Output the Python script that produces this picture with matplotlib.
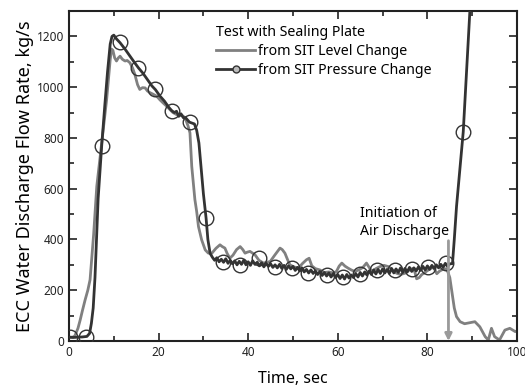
import numpy as np
import matplotlib
matplotlib.use("Agg")
import matplotlib.pyplot as plt
from matplotlib.lines import Line2D

plt.rcParams['font.family'] = ['Noto Sans', 'DejaVu Sans']

# ---- Data: from SIT Pressure Change (dark line) ----
press_t_rise = [0, 1, 2, 3, 4, 4.6, 5.0, 5.4, 5.8, 6.5, 7.3, 8.0, 8.6, 9.2, 9.6, 10.0, 10.6,
                11.4, 12.5, 13.5, 14.5, 15.5, 16.5, 17.5, 18.5, 19.3, 20.3, 21.3, 22.3, 22.9,
                23.5, 24.0, 24.5, 25.0, 25.5, 26.0, 26.9, 27.5, 28.0, 28.5, 29.0, 29.5, 30.0,
                30.6, 31.0, 31.5]
press_v_rise = [15, 14, 15, 16, 18, 30, 70, 130, 250, 560, 770, 930, 1060, 1170, 1200, 1205, 1190,
                1175, 1150, 1125, 1100, 1076, 1055, 1030, 1005, 990, 965, 945, 920, 908,
                900, 905, 885, 895, 880, 880, 862, 858, 855, 830, 780, 680, 580,
                484, 400, 345]
press_t_plateau = np.arange(32.0, 85.01, 0.5)
press_v_plateau = [330, 318, 328, 312, 322, 310, 324, 306, 318, 304, 316, 300, 314, 302, 318, 300,
                   312, 298, 316, 302, 310, 296, 308, 292, 306, 294, 304, 290, 300, 288, 302, 286,
                   298, 282, 296, 284, 294, 278, 290, 276, 288, 272, 282, 268, 280, 266, 276, 262,
                   274, 258, 270, 256, 268, 252, 266, 250, 262, 246, 260, 244, 262, 248, 260, 250,
                   266, 252, 270, 256, 272, 260, 276, 262, 280, 264, 282, 266, 284, 268, 282, 266,
                   286, 268, 284, 270, 288, 270, 286, 272, 290, 274, 288, 276, 292, 278, 294, 280,
                   296, 282, 298, 286, 300, 288, 302, 290, 306, 294, 304]
press_t_end = [85.6, 86.0, 86.5, 87.3, 88.0, 88.8, 89.5, 90.0]
press_v_end = [305, 400, 530, 688, 824, 1083, 1306, 1420]

press_t = np.concatenate([press_t_rise, press_t_plateau, press_t_end])
press_v = np.concatenate([press_v_rise, press_v_plateau, press_v_end])

# open-circle markers along the pressure curve
marker_t = [0.3, 3.9, 7.3, 11.4, 15.5, 19.3, 22.9, 26.9, 30.6, 34.4, 38.2, 42.3, 46.0, 49.7,
            53.4, 57.5, 61.2, 65.0, 68.7, 72.8, 76.5, 80.2, 84.1, 88.0]
marker_v = [17, 17, 770, 1178, 1076, 991, 908, 862, 484, 313, 300, 326, 293, 287,
            267, 260, 254, 264, 280, 280, 283, 293, 307, 824]

# ---- Data: from SIT Level Change (grey line) ----
level_t = [0, 0.8, 1.3, 2.0, 2.5, 3.0, 3.6, 4.2, 4.7, 5.5, 6.2, 7.3, 8.4, 9.2, 9.5, 9.8, 10.2,
           10.6, 11.0, 11.4, 11.9, 12.5, 13.0, 13.6, 14.2, 14.7, 15.3, 15.8, 16.4, 17.0, 17.5,
           18.1, 18.8, 19.6, 20.3, 21.0, 21.8, 22.5, 23.2, 24.0, 24.8, 25.5, 26.1, 26.6, 27.0,
           27.4, 28.1, 28.5, 28.9, 29.6, 30.4, 31.1, 31.9, 32.8, 33.7, 34.2, 34.8, 35.3, 35.9,
           36.6, 37.4, 38.2, 38.8, 39.3, 39.8, 40.4, 41.0, 41.5, 42.4, 43.4, 44.2, 44.9, 46.0,
           47.1, 47.6, 48.2, 48.8, 49.3, 50.2, 51.2, 52.1, 53.0, 53.6, 54.2, 55.0, 56.0, 57.0,
           58.0, 59.0, 59.7, 60.3, 60.9, 61.6, 62.3, 63.0, 63.8, 64.7, 65.6, 66.4, 67.0, 67.6,
           68.5, 69.4, 70.3, 71.3, 72.2, 73.1, 74.0, 75.0, 76.0, 76.9, 77.3, 77.6, 78.2, 78.7,
           79.6, 80.6, 81.4, 82.1, 82.7, 83.4, 84.3, 85.0, 85.4, 86.0, 86.5, 87.3, 88.3, 89.5,
           90.6, 91.7, 92.9, 93.6, 94.3, 95.0, 96.1, 97.3, 98.4, 99.6, 100.0]
level_v = [15, 15, 20, 50, 83, 120, 162, 200, 241, 420, 609, 781, 951, 1109, 1150, 1145, 1115,
           1103, 1115, 1122, 1110, 1103, 1105, 1096, 1075, 1050, 1010, 991, 998, 997, 985,
           978, 972, 964, 950, 938, 925, 912, 900, 892, 890, 886, 870, 846, 820,
           688, 557, 510, 451, 399, 359, 346, 346, 365, 379, 372, 366, 345, 326,
           338, 360, 372, 360, 346, 350, 353, 346, 340, 318, 307, 310, 313, 340,
           366, 360, 346, 320, 300, 292, 287, 305, 320, 326, 296, 285, 280, 270,
           272, 268, 274, 295, 307, 295, 287, 280, 274, 280, 290, 307, 290, 274,
           285, 293, 298, 293, 280, 267, 262, 267, 280, 287, 265, 245, 250, 261,
           272, 285, 290, 265, 275, 282, 285, 250, 201, 130, 96, 76, 68, 72,
           76, 56, 17, 4, 50, 17, 4, 43, 50, 37, 40]

# annotation arrow
arrow_t = 84.7
arrow_top = 395

fig = plt.figure(figsize=(5.25, 3.92), dpi=100)
ax = fig.add_axes([69/525, 1 - 341/392, 448/525, 330/392])

grey = '#808080'
dark = '#333333'

ax.plot(level_t, level_v, color=grey, lw=2.0, zorder=2)
ax.plot(press_t, press_v, color=dark, lw=2.0, zorder=3)
ax.plot(marker_t, marker_v, ls='none', marker='o', ms=10.5, mfc='none', mec=dark, mew=1.0, zorder=4)

ax.annotate('', xy=(arrow_t, 0), xytext=(arrow_t, arrow_top),
            arrowprops=dict(arrowstyle='-|>', color='#9a9a9a', lw=2.0, mutation_scale=10, shrinkA=0, shrinkB=0),
            zorder=5)
ax.text(65, 400, 'Initiation of\nAir Discharge', fontsize=10.2, ha='left', va='bottom', linespacing=1.35)

ax.set_xlim(0, 100)
ax.set_ylim(0, 1300)
ax.set_xticks([0, 20, 40, 60, 80, 100])
ax.set_xticks(np.arange(0, 101, 10), minor=True)
ax.set_yticks([0, 200, 400, 600, 800, 1000, 1200])
ax.set_yticks(np.arange(0, 1301, 100), minor=True)
ax.tick_params(which='both', direction='in', top=True, right=True, labelsize=8.5, width=1.2, colors='#222222')
ax.tick_params(which='major', length=6)
ax.tick_params(which='minor', length=3.5)
for s in ax.spines.values():
    s.set_linewidth(1.5)
    s.set_color('#222222')

ax.set_xlabel('Time, sec', fontsize=11.5, labelpad=9)
ax.set_ylabel('ECC Water Discharge Flow Rate, kg/s', fontsize=13, labelpad=2)

handles = [Line2D([], [], color=grey, lw=2.0),
           Line2D([], [], color=dark, lw=2.0, marker='o', ms=5, mfc='#bbbbbb', mec=dark, mew=1.0)]
leg = ax.legend(handles, ['from SIT Level Change', 'from SIT Pressure Change'],
                title='Test with Sealing Plate', loc='upper left', bbox_to_anchor=(0.329, 0.958),
                frameon=False, fontsize=10.2, title_fontsize=10.2, handlelength=2.7, handletextpad=0.25,
                labelspacing=0.3, borderaxespad=0, borderpad=0)
leg._legend_box.align = 'left'

fig.savefig('out.png', dpi=100)
